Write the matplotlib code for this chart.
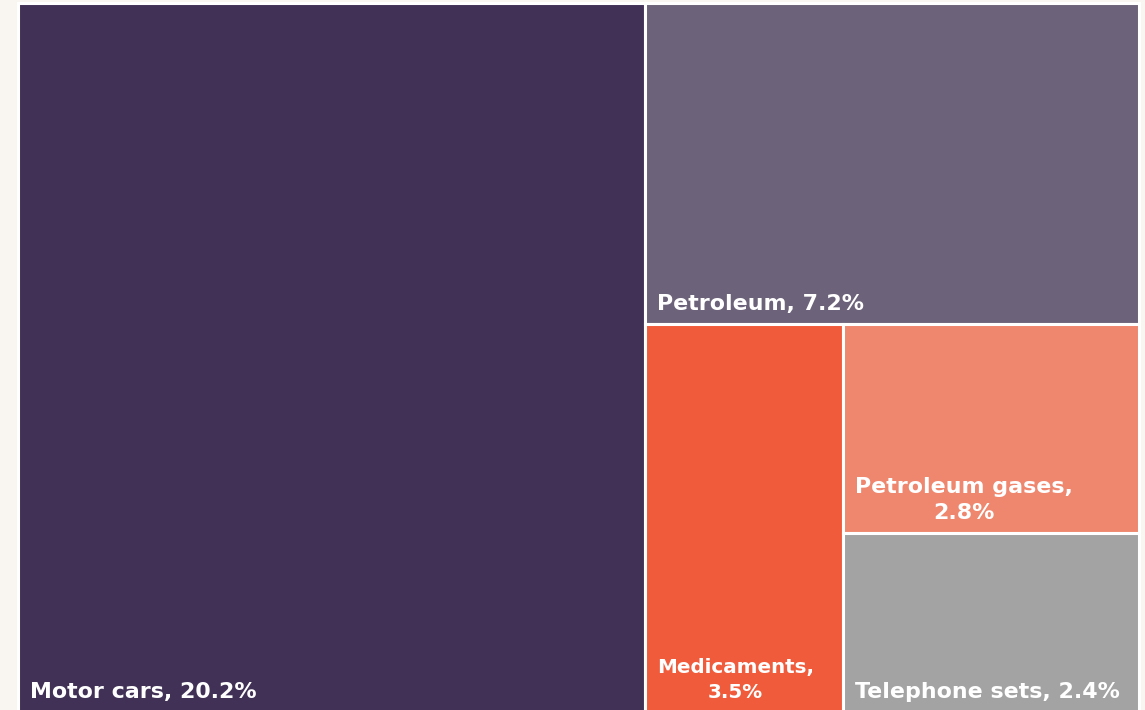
import matplotlib
matplotlib.use("Agg")
import matplotlib.pyplot as plt
from matplotlib.patches import Rectangle

# data
names = ["Motor cars", "Petroleum", "Medicaments", "Petroleum gases", "Telephone sets"]
shares = [20.2, 7.2, 3.5, 2.8, 2.4]
colors = ["#413157", "#6c6279", "#f05c3b", "#ef866e", "#a3a3a3"]

BG = "#f9f5f0"


def worst(row, w):
    s = sum(row)
    return max(max(w * w * r / (s * s), (s * s) / (w * w * r)) for r in row)


def squarify(vals, x, y, dx, dy):
    # vals already scaled to area
    out = []
    vals = list(vals)
    while vals:
        w = min(dx, dy)
        row = [vals.pop(0)]
        while vals and worst(row + [vals[0]], w) <= worst(row, w):
            row.append(vals.pop(0))
        s = sum(row)
        if dx >= dy:  # column on the left
            cw = s / dy
            yy = y
            for r in row:
                h = r / cw
                out.append((x, yy, cw, h))
                yy += h
            x += cw
            dx -= cw
        else:  # row on top
            rh = s / dx
            xx = x
            for r in row:
                ww = r / rh
                out.append((xx, y, ww, rh))
                xx += ww
            y += rh
            dy -= rh
    return out


W, H = 1145, 710
fig = plt.figure(figsize=(W / 100, H / 100), dpi=100, facecolor=BG)
ax = fig.add_axes([0, 0, 1, 1])
ax.set_xlim(0, W)
ax.set_ylim(H, 0)
ax.axis("off")

# plot area (pixels)
x0, y0, aw, ah = 17.5, 2.5, 1121, 710
total = sum(shares)
areas = [v / total * aw * ah for v in shares]
rects = squarify(areas, x0, y0, aw, ah)

fs = 15.9
fig.canvas.draw()
renderer = fig.canvas.get_renderer()
for (rx, ry, rw, rh), nm, v, c in zip(rects, names, shares, colors):
    ax.add_patch(Rectangle((rx, ry), rw, rh, facecolor=c, edgecolor="white", linewidth=2.2))
    lab = f"{nm}, {v}%"
    t = ax.text(rx + 12, ry + rh - 14.5, lab, color="white", fontsize=fs,
                fontweight="bold", ha="left", va="baseline", multialignment="center",
                linespacing=1.38)
    if t.get_window_extent(renderer).width > rw - 24:
        t.set_text(f"{nm},\n{v}%")
        wd = t.get_window_extent(renderer).width
        if wd > rw - 36:
            t.set_fontsize(fs * (rw - 42) / wd)

fig.savefig("out.png", dpi=100, facecolor=BG)
